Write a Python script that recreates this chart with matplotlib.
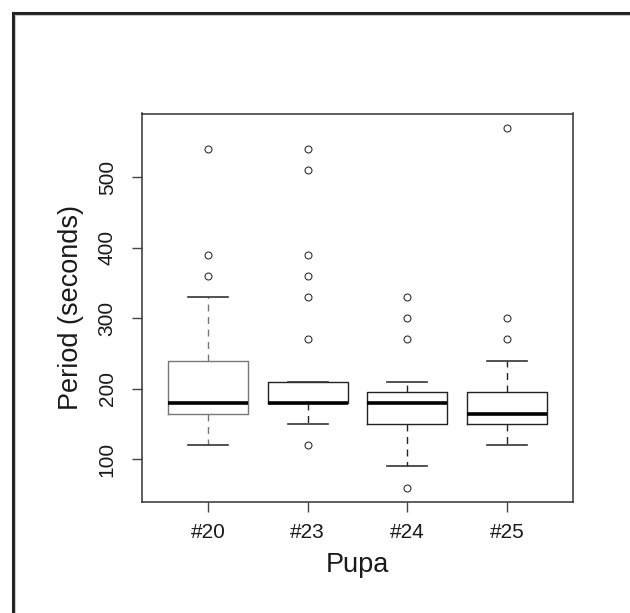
import matplotlib
matplotlib.use("Agg")
import matplotlib.pyplot as plt
from matplotlib.lines import Line2D

plt.rcParams['font.family'] = ['Liberation Sans', 'DejaVu Sans']

# ---- data ----
categories = ["#20", "#23", "#24", "#25"]
whislo = [120, 150, 90, 120]
q1 = [165, 180, 150, 150]
med = [180, 180, 180, 165]
q3 = [240, 210, 195, 195]
whishi = [330, 210, 210, 240]
fliers = [
    [360, 390, 540],
    [120, 270, 330, 360, 390, 510, 540],
    [60, 270, 300, 330],
    [270, 300, 570],
]
box_colors = ["#777777", "#222222", "#222222", "#222222"]

W, H = 630, 613
fig = plt.figure(figsize=(W / 100, H / 100), dpi=100)
fig.patch.set_facecolor("white")

ax_l, ax_r, ax_t, ax_b = 142, 573, 113.5, 502
ax = fig.add_axes([ax_l / W, 1 - ax_b / H, (ax_r - ax_l) / W, (ax_b - ax_t) / H])

stats = []
for i, c in enumerate(categories):
    stats.append(dict(label=c, whislo=whislo[i], q1=q1[i], med=med[i],
                      q3=q3[i], whishi=whishi[i], fliers=fliers[i]))

positions = list(range(1, len(categories) + 1))
for i, s in enumerate(stats):
    col = box_colors[i]
    ax.bxp([s], positions=[positions[i]], widths=0.8, showfliers=True,
           boxprops=dict(color=col, linewidth=1.0),
           medianprops=dict(color="black", linewidth=2.6, solid_capstyle="butt"),
           whiskerprops=dict(color=col, linewidth=1.0, linestyle=(0, (5, 4))),
           capprops=dict(color="#333333", linewidth=1.2),
           capwidths=0.4,
           flierprops=dict(marker="o", markersize=5, markerfacecolor="none",
                           markeredgecolor="#333333", markeredgewidth=0.8,
                           linestyle="none"))

ax.set_xlim(0.34, 4.66)
ax.set_ylim(39.6, 590.4)
ax.set_xticks(positions)
ax.set_xticklabels(categories)
ax.set_yticks([100, 200, 300, 400, 500])
ax.set_yticklabels(["100", "200", "300", "400", "500"], rotation=90, va="center")

for sp in ax.spines.values():
    sp.set_linewidth(1.1)
    sp.set_color("#333333")

ax.tick_params(axis="both", direction="out", length=7.2, width=1.0,
               color="#444444", labelsize=15, labelcolor="#1a1a1a")
ax.tick_params(axis="x", pad=8)
ax.tick_params(axis="y", pad=11)

ax.set_xlabel("Pupa", fontsize=19.5, color="#1a1a1a")
ax.set_ylabel("Period (seconds)", fontsize=19.5, color="#1a1a1a")
ax.xaxis.set_label_coords(0.5, -0.128)
ax.yaxis.set_label_coords(-0.135, 0.5)

# outer frame (visible on top and left only)
x0 = 12.5 / W
y0 = 1 - 12.5 / H
fig.add_artist(Line2D([x0, x0], [0, y0], transform=fig.transFigure,
                      color="#222222", linewidth=2.2, solid_capstyle="projecting"))
fig.add_artist(Line2D([x0, 1], [y0, y0], transform=fig.transFigure,
                      color="#222222", linewidth=2.2, solid_capstyle="projecting"))
fig.add_artist(Line2D([15 / W, 15 / W], [0, 1 - 15 / H], transform=fig.transFigure,
                      color="#c8c8c8", linewidth=0.8))
fig.add_artist(Line2D([15 / W, 1], [1 - 15 / H, 1 - 15 / H], transform=fig.transFigure,
                      color="#c8c8c8", linewidth=0.8))

fig.savefig("out.png", dpi=100)
